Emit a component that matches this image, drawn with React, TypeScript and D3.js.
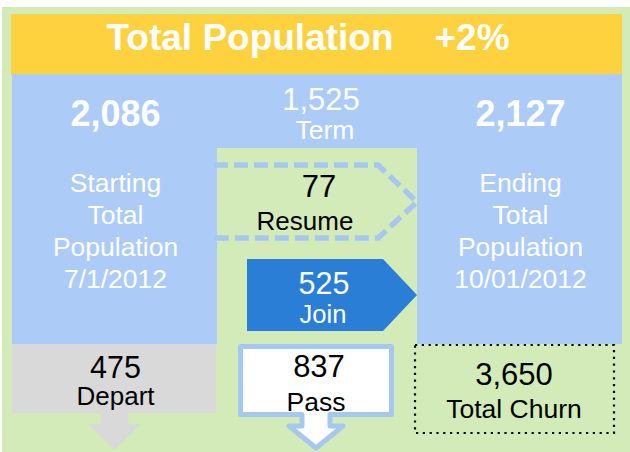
import React from 'react';
import * as d3 from 'd3';

// Population flow summary, Q3 2012
const headerTitle = 'Total Population';
const headerChange = '+2%';
const populationTotals = [2086, 2127];
const populationLabels = [
  ['Starting', 'Total', 'Population', '7/1/2012'],
  ['Ending', 'Total', 'Population', '10/01/2012'],
];
const flowNames = ['Term', 'Resume', 'Join', 'Depart', 'Pass', 'Total Churn'];
const flowValues = [1525, 77, 525, 475, 837, 3650];

const W = 630;
const H = 452;

const GREEN = '#d2ebb8';
const YELLOW = '#fed13f';
const LIGHT_BLUE = '#adcbf7';
const DASH_BLUE = '#a6c8ef';
const DARK_BLUE = '#2a7ed5';
const GRAY = '#d9d9d9';
const FONT = '"Liberation Sans", Arial, Helvetica, sans-serif';

const fmt = d3.format(',');

const App: React.FC = () => {
  // column edges: start / flows / end
  const edge = d3.scaleLinear().domain([0, 1, 2, 3]).range([12, 217, 417, 622]);
  const x0 = edge(0), x1 = edge(1), x2 = edge(2), x3 = edge(3);
  const cx = (i: number) => (edge(i) + edge(i + 1)) / 2;

  // vertical layout
  const y = d3.scaleLinear().domain([0, 1]).range([74, 344]);
  const headerTop = 14;
  const headerBottom = y(0);
  const colBottom = y(1);
  const termBottom = 148;

  const line = d3.line();

  // resume (dashed chevron, left side hidden by the column)
  const resumePts: [number, number][] = [
    [x1 - 3, 165], [x1 + 161, 165], [x2, 202], [x1 + 161, 238], [x1 - 3, 238],
  ];
  // join (solid chevron)
  const joinPts: [number, number][] = [
    [x1 + 30, 259], [x1 + 166, 259], [x2, 295], [x1 + 166, 331], [x1 + 30, 331],
  ];
  // pass box with arrow
  const pcx = cx(1) - 1;
  const passPts: [number, number][] = [
    [pcx - 75.5, 346.5], [pcx + 75.5, 346.5], [pcx + 75.5, 414.5], [pcx + 14, 414.5],
    [pcx + 14, 426], [pcx + 27, 426], [pcx, 448], [pcx - 27, 426], [pcx - 14, 426],
    [pcx - 14, 414.5], [pcx - 75.5, 414.5],
  ];
  // depart arrow
  const dcx = cx(0);
  const departArrow: [number, number][] = [
    [dcx - 14, 413], [dcx + 14, 413], [dcx + 14, 424], [dcx + 26, 424], [dcx, 450],
    [dcx - 26, 424], [dcx - 14, 424],
  ];

  const label = (t: string, xx: number, yy: number, size: number, fill: string, bold = false) => (
    <text x={xx} y={yy} textAnchor="middle" fontSize={size} fill={fill}
      fontWeight={bold ? 'bold' : 'normal'} fontFamily={FONT}>{t}</text>
  );

  return (
    <div style={{ position: 'absolute', left: 0, top: 0 }}>
      <svg width={W} height={H} viewBox={`0 0 ${W} ${H}`}>
        <rect x={0} y={0} width={W} height={H} fill="#ffffff" />
        <rect x={2} y={7} width={W - 2} height={H - 7} fill={GREEN} />

        {/* header */}
        <rect x={11} y={headerTop} width={611} height={headerBottom - headerTop + 1} fill={YELLOW} />
        {label(headerTitle, 250, 50, 37, '#ffffff', true)}
        {label(headerChange, 472, 50, 37, '#ffffff', true)}

        {/* blue columns */}
        <rect x={x0} y={headerBottom} width={x1 - x0} height={colBottom - headerBottom} fill={LIGHT_BLUE} />
        <rect x={x2} y={headerBottom} width={x3 - x2} height={colBottom - headerBottom} fill={LIGHT_BLUE} />

        {/* resume */}
        <path d={line(resumePts)!} fill="none" stroke={DASH_BLUE} strokeWidth={5.5}
          strokeDasharray="14 6" />
        <rect x={x1} y={headerBottom} width={x2 - x1} height={termBottom - headerBottom} fill={LIGHT_BLUE} />
        {label(fmt(flowValues[1]), cx(1) + 2, 197, 31, '#000000')}
        {label(flowNames[1], cx(1) - 12, 230, 26, '#000000')}

        {/* totals */}
        {populationTotals.map((v, i) => (
          <g key={i}>
            {label(fmt(v), cx(i * 2) + 1, 126, 36, '#ffffff', true)}
            {populationLabels[i].map((s, j) => (
              <React.Fragment key={j}>{label(s, cx(i * 2) + 1, 192 + j * 32, 26.5, '#ffffff')}</React.Fragment>
            ))}
          </g>
        ))}

        {/* term */}
        {label(fmt(flowValues[0]), cx(1) + 4, 110, 31, '#ffffff')}
        {label(flowNames[0], cx(1) + 8, 139, 26.5, '#ffffff')}

        {/* join */}
        <path d={line(joinPts)! + 'Z'} fill={DARK_BLUE} />
        {label(fmt(flowValues[2]), cx(1) + 7, 294, 30.5, '#ffffff')}
        {label(flowNames[2], cx(1) + 6, 323, 25.5, '#ffffff')}

        {/* depart */}
        <rect x={x0} y={colBottom} width={x1 - x0 - 1} height={413 - colBottom} fill={GRAY} />
        <path d={line(departArrow)! + 'Z'} fill={GRAY} />
        {label(fmt(flowValues[3]), cx(0) + 1, 378, 30.5, '#000000')}
        {label(flowNames[3], cx(0) + 1, 405, 26, '#000000')}

        {/* pass */}
        <path d={line(passPts)! + 'Z'} fill="#ffffff" stroke={DASH_BLUE} strokeWidth={5}
          strokeLinejoin="round" />
        {label(fmt(flowValues[4]), pcx + 3, 377, 31, '#000000')}
        {label(flowNames[4], pcx, 411, 26.5, '#000000')}

        {/* total churn */}
        <rect x={415} y={345} width={199} height={88} fill="none" stroke="#000000"
          strokeWidth={2.2} strokeDasharray="2.2 4.6" />
        {label(fmt(flowValues[5]), 514, 385, 31, '#000000')}
        {label(flowNames[5], 514, 418, 26.5, '#000000')}
      </svg>
    </div>
  );
};

export default App;
